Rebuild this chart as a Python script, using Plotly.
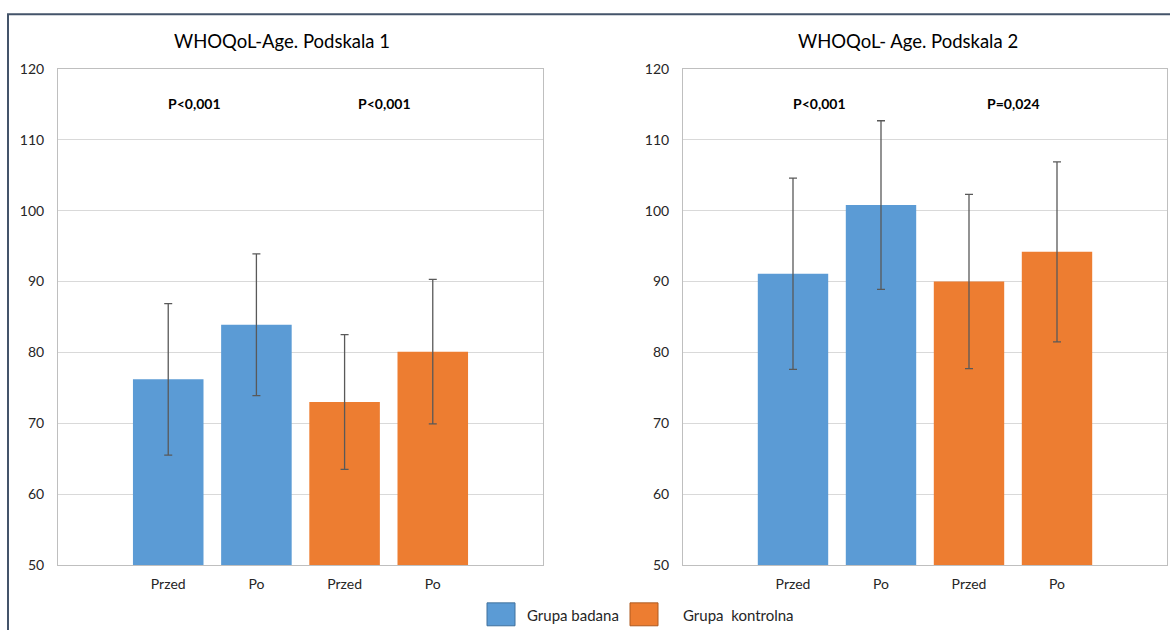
import plotly.graph_objects as go

# ---- data ----
categories = ["Przed", "Po", "Przed", "Po"]
groups = ["Grupa badana", "Grupa badana", "Grupa  kontrolna", "Grupa  kontrolna"]

p1_values = [76.2, 83.9, 73.0, 80.1]
p1_errors = [10.7, 10.0, 9.5, 10.2]

p2_values = [91.1, 100.8, 90.0, 94.2]
p2_errors = [13.5, 11.9, 12.3, 12.7]

titles = ["WHOQoL-Age. Podskala 1", "WHOQoL- Age. Podskala 2"]
p_labels_1 = ["P<0,001", "P<0,001"]
p_labels_2 = ["P<0,001", "P=0,024"]

y_ticks = [50, 60, 70, 80, 90, 100, 110, 120]

BLUE = "#5B9BD5"
ORANGE = "#ED7D31"
colors = [BLUE, BLUE, ORANGE, ORANGE]
FONT = "Lato"
W, H = 1170, 630

fig = go.Figure()

x_pos = [0, 1, 2, 3]

def add_panel(values, errors, xa, ya):
    fig.add_trace(go.Bar(
        x=x_pos, y=values, marker_color=colors, width=0.8,
        marker_line_width=0,
        error_y=dict(type="data", array=errors, visible=True,
                     color="#595959", thickness=1.3, width=4),
        xaxis=xa, yaxis=ya, showlegend=False, hoverinfo="y",
    ))

add_panel(p1_values, p1_errors, "x", "y")
add_panel(p2_values, p2_errors, "x2", "y2")

def px_x(v):
    return v / W

def px_y(v):
    page = v * 646 / 630 - 8
    return 1 - page / H

axis_common_x = dict(
    range=[-1.25, 4.25], tickmode="array", tickvals=x_pos, ticktext=categories,
    showgrid=False, zeroline=False, showline=True, linecolor="#BFBFBF",
    linewidth=1, mirror=True, ticks="", ticklen=0, ticklabelstandoff=6,
    tickfont=dict(family=FONT, size=14, color="#262626"), fixedrange=True,
)
axis_common_y = dict(
    range=[50, 120], tickmode="array", tickvals=y_ticks,
    showgrid=True, gridcolor="#D9D9D9", gridwidth=1, zeroline=False,
    showline=True, linecolor="#BFBFBF", linewidth=1, mirror=True,
    ticks="", ticklabelstandoff=10,
    tickfont=dict(family=FONT, size=14, color="#262626"),
    fixedrange=True,
)

fig.update_layout(
    width=W, height=H,
    margin=dict(l=0, r=0, t=0, b=0),
    paper_bgcolor="white", plot_bgcolor="white",
    showlegend=False, bargap=0.2,
    xaxis=dict(domain=[px_x(58), px_x(543)], anchor="y", **axis_common_x),
    yaxis=dict(domain=[px_y(565), px_y(68)], anchor="x", **axis_common_y),
    xaxis2=dict(domain=[px_x(683), px_x(1167)], anchor="y2", **axis_common_x),
    yaxis2=dict(domain=[px_y(565), px_y(68)], anchor="x2", **axis_common_y),
    font=dict(family=FONT, color="#262626"),
)

# outer frame
fig.add_shape(type="rect", xref="paper", yref="paper",
              x0=px_x(8), x1=px_x(1200), y0=-0.1, y1=px_y(13),
              line=dict(color="#44546A", width=2), fillcolor="rgba(0,0,0,0)")

# titles
fig.add_annotation(text=titles[0], xref="paper", yref="paper",
                   x=px_x(282), y=px_y(40), showarrow=False,
                   font=dict(family=FONT, size=18.5, color="#000000"),
                   xanchor="center", yanchor="middle")
fig.add_annotation(text=titles[1], xref="paper", yref="paper",
                   x=px_x(908), y=px_y(40), showarrow=False,
                   font=dict(family=FONT, size=18.5, color="#000000"),
                   xanchor="center", yanchor="middle")

# p-value labels
for xa, ya, labels, xs in [("x", "y", p_labels_1, [0.3, 2.45]),
                           ("x2", "y2", p_labels_2, [0.3, 2.5])]:
    for lab, xv in zip(labels, xs):
        fig.add_annotation(text="<b>" + lab + "</b>", xref=xa, yref=ya,
                           x=xv, y=115.1, showarrow=False,
                           font=dict(family=FONT, size=14, color="#000000"))

# legend (manual)
legend_items = [("Grupa badana", BLUE, 487, 525), ("Grupa  kontrolna", ORANGE, 630, 681)]
for name, col, sx, tx in legend_items:
    fig.add_shape(type="rect", xref="paper", yref="paper",
                  x0=px_x(sx), x1=px_x(sx + 28), y0=px_y(626), y1=px_y(603),
                  fillcolor=col, line=dict(color="#41719C" if col == BLUE else "#AE5A21", width=1))
    fig.add_annotation(text=name, xref="paper", yref="paper",
                       x=px_x(tx), y=px_y(615), showarrow=False,
                       xanchor="left", yanchor="middle",
                       font=dict(family=FONT, size=15, color="#262626"))

fig.write_html(
    "out.html",
    config={"displayModeBar": False},
    post_script=(
        "var d=document.getElementById('{plot_id}');"
        "d.style.position='fixed';d.style.top='0px';d.style.left='0px';"
        "document.body.style.margin='0';document.body.style.overflow='hidden';"
    ),
)
